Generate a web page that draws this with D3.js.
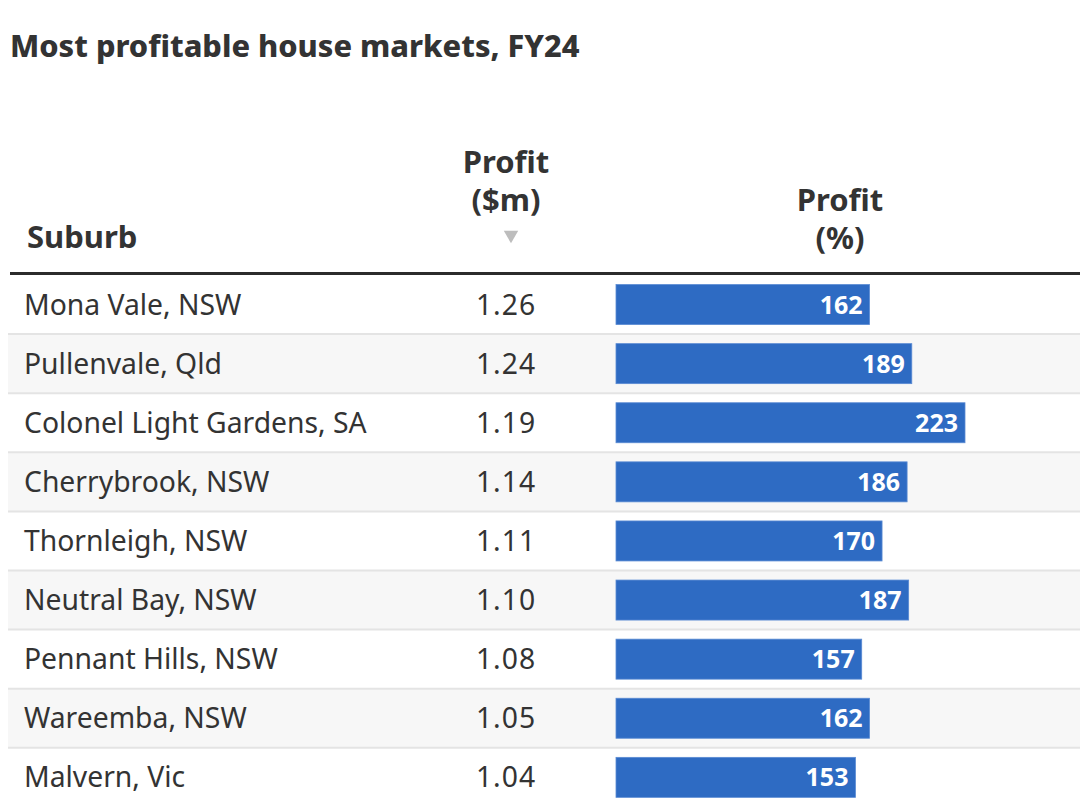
<!DOCTYPE html>
<html>
<head>
<meta charset="utf-8">
<script src="https://cdn.jsdelivr.net/npm/d3@7"></script>
<style>
  html, body { margin: 0; padding: 0; background: #fff; }
  svg { display: block; }
</style>
</head>
<body>
<svg id="chart" width="1080" height="803"></svg>
<script>
const suburbs = ["Mona Vale, NSW", "Pullenvale, Qld", "Colonel Light Gardens, SA", "Cherrybrook, NSW",
  "Thornleigh, NSW", "Neutral Bay, NSW", "Pennant Hills, NSW", "Wareemba, NSW", "Malvern, Vic"];
const profitM = [1.26, 1.24, 1.19, 1.14, 1.11, 1.10, 1.08, 1.05, 1.04];
const profitPct = [162, 189, 223, 186, 170, 187, 157, 162, 153];
const title = "Most profitable house markets, FY24";
const headers = { suburb: "Suburb", profitM: ["Profit", "($m)"], profitPct: ["Profit", "(%)"] };

const W = 1080, H = 803;
const svg = d3.select("#chart");
const font = "'Noto Sans', 'Open Sans', sans-serif";
const txt = "#333333";

const rows = suburbs.map((s, i) => ({ suburb: s, m: profitM[i], pct: profitPct[i], i }));

const y = d3.scaleBand().domain(d3.range(rows.length)).range([275, 275 + rows.length * 59.1]).padding(0);
const x = d3.scaleLinear().domain([0, d3.max(profitPct)]).range([0, 349]);
const barX = 616;
const colM = 506, colPct = 840;

// title
svg.append("text").attr("x", 10).attr("y", 57)
  .attr("font-family", font).attr("font-weight", 800).attr("font-size", 30.7)
  .attr("letter-spacing", 0)
  .attr("fill", txt).text(title);

// headers
const hdr = svg.append("g").attr("font-family", font).attr("font-weight", 700)
  .attr("font-size", 31).attr("fill", txt).attr("letter-spacing", 0);
hdr.append("text").attr("x", 27).attr("y", 248).text(headers.suburb);
headers.profitM.forEach((t, k) => hdr.append("text").attr("x", colM).attr("y", 173 + k * 38)
  .attr("text-anchor", "middle").text(t));
headers.profitPct.forEach((t, k) => hdr.append("text").attr("x", colPct).attr("y", 211 + k * 38)
  .attr("text-anchor", "middle").text(t));
svg.append("path").attr("d", d3.symbol(d3.symbolTriangle, 90)())
  .attr("transform", `translate(${colM + 5},235) rotate(180)`).attr("fill", "#bdbdbd");

// rows
const g = svg.append("g");
const row = g.selectAll("g.row").data(rows).join("g").attr("class", "row");
row.append("rect").attr("x", 8).attr("width", W - 8)
  .attr("y", d => y(d.i)).attr("height", y.bandwidth())
  .attr("fill", d => d.i % 2 === 1 ? "#f7f7f7" : "#ffffff");
row.filter(d => d.i > 0).append("line").attr("x1", 8).attr("x2", W)
  .attr("y1", d => y(d.i)).attr("y2", d => y(d.i))
  .attr("stroke", "#e4e4e4").attr("stroke-width", 2);
row.append("text").attr("x", 24).attr("y", d => y(d.i) + y.bandwidth() / 2 + 10)
  .attr("font-family", font).attr("font-size", 28.3).attr("fill", txt).text(d => d.suburb);
row.append("text").attr("x", colM).attr("y", d => y(d.i) + y.bandwidth() / 2 + 10)
  .attr("text-anchor", "middle").attr("letter-spacing", 1)
  .attr("font-family", font).attr("font-size", 28.3).attr("fill", txt).text(d => d3.format(".2f")(d.m));
row.append("rect").attr("x", barX).attr("y", d => y(d.i) + y.bandwidth() / 2 - 20)
  .attr("width", d => x(d.pct)).attr("height", 40).attr("fill", "#2e6bc3")
  .attr("stroke", "#5a8ad3").attr("stroke-width", 0.8);
row.append("text").attr("x", d => barX + x(d.pct) - 7).attr("y", d => y(d.i) + y.bandwidth() / 2 + 9)
  .attr("text-anchor", "end").attr("font-family", font).attr("font-weight", 700)
  .attr("font-size", 25).attr("fill", "#ffffff").text(d => d.pct);

// header rule
svg.append("line").attr("x1", 10).attr("x2", W).attr("y1", 273.5).attr("y2", 273.5)
  .attr("stroke", "#2b2b2b").attr("stroke-width", 3);
</script>
</body>
</html>
